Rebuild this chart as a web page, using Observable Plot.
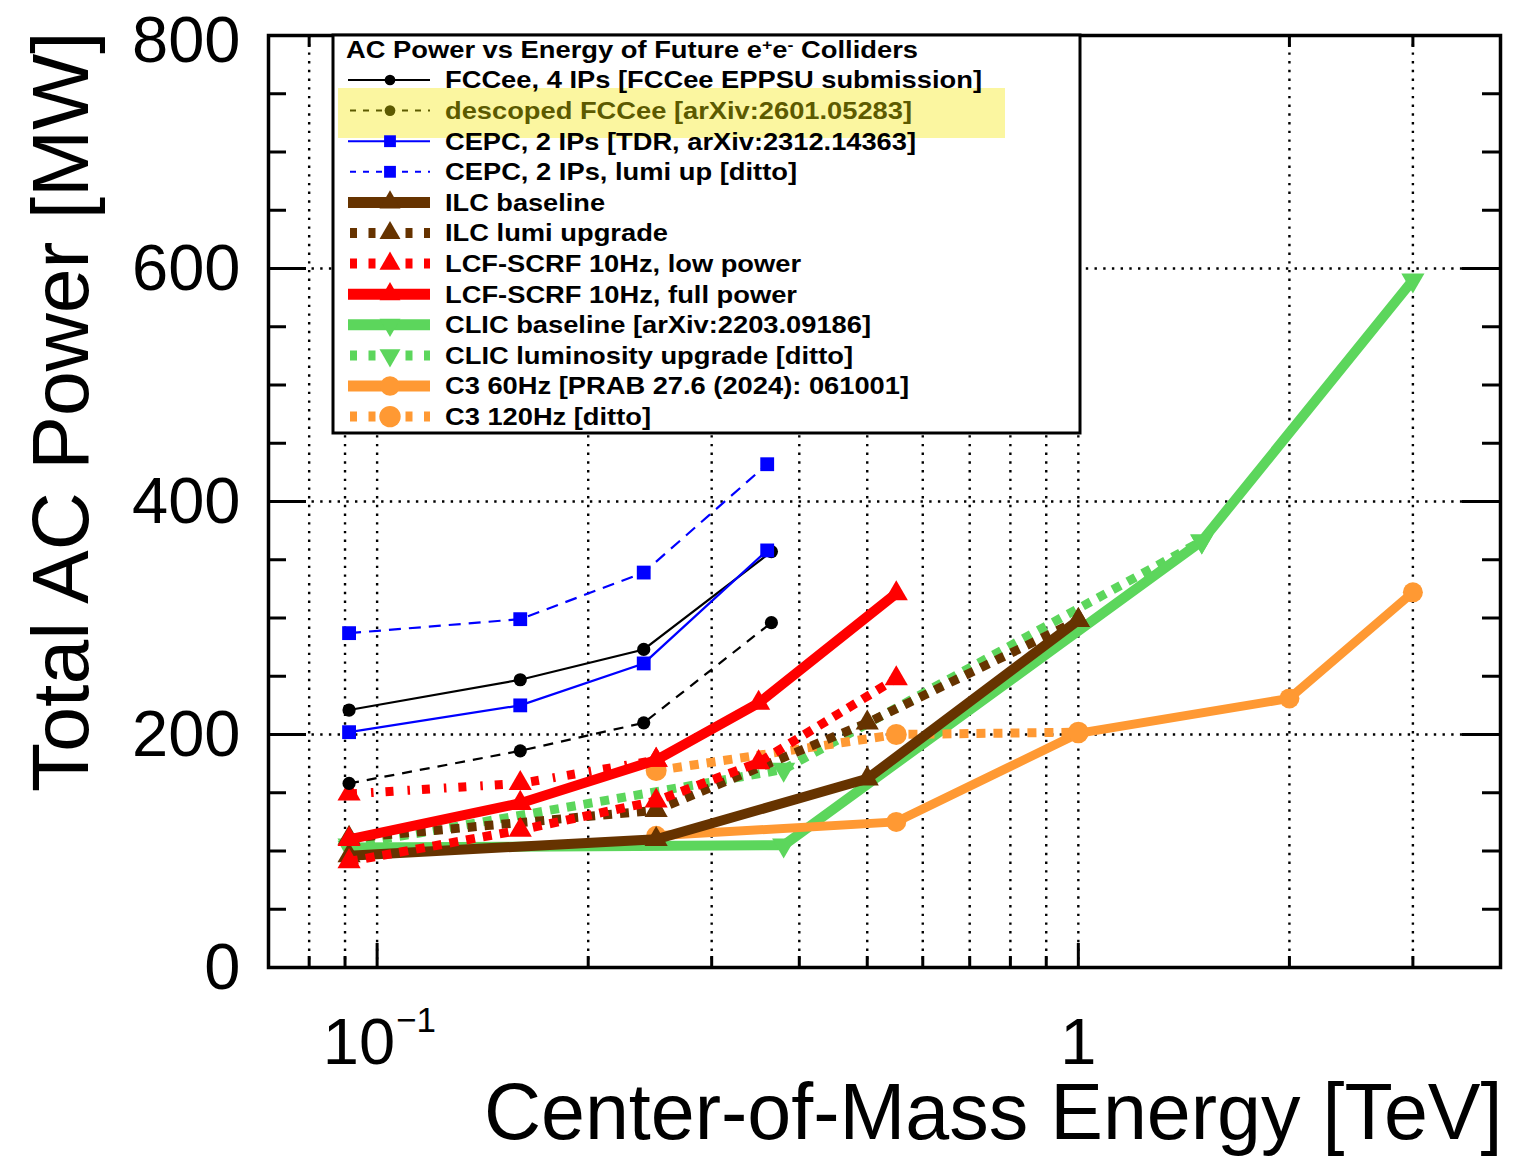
<!DOCTYPE html>
<html>
<head>
<meta charset="utf-8">
<script src="https://cdn.jsdelivr.net/npm/d3@7"></script>
<script src="https://cdn.jsdelivr.net/npm/@observablehq/plot@0.6"></script>
<style>
  html, body { margin: 0; padding: 0; background: #fff; }
  svg { display: block; }
</style>
</head>
<body>
<div id="chart"></div>
<script>
// ---------------- data ----------------
const fccEnergy        = [0.0912, 0.16, 0.24, 0.365];
const fccPower         = [221, 247, 273, 357];
const fccDescopedPower = [158, 186, 210, 296];

const cepcEnergy    = [0.0912, 0.16, 0.24, 0.36];
const cepcPower     = [202, 225, 261, 358];
const cepcLumiPower = [287, 299, 339, 432];

const ilcEnergy     = [0.0912, 0.25, 0.5, 1.0];
const ilcPower      = [96, 110, 162, 298];
const ilcLumiPower  = [111, 135, 210, 298];

const lcfEnergy     = [0.0912, 0.16, 0.25, 0.35, 0.55];
const lcfLowPower   = [91, 118, 143, 176, 248];
const lcfFullPower  = [110, 141, 178, 227, 321];
const lcfZWEnergy   = [0.0912, 0.16, 0.25];
const lcfZWPower    = [149, 158, 178];

const clicEnergy     = [0.0912, 0.38, 1.5, 3.0];
const clicPower      = [103, 105, 366, 590];
const clicLumiEnergy = [0.0912, 0.38, 1.5];
const clicLumiPower  = [105, 170, 366];

const c3Energy     = [0.25, 0.55, 1.0, 2.0, 3.0];
const c3Power60    = [113, 125, 201, 231, 322];
const c3Energy120  = [0.25, 0.55, 1.0];
const c3Power120   = [169, 200, 202];

const yMajorTicks = [0, 200, 400, 600, 800];
const yMinorTicks = [50, 100, 150, 250, 300, 350, 450, 500, 550, 650, 700, 750];
const yGridTicks  = [200, 400, 600];
const xMajorTicks = [0.1, 1];
const xMinorTicks = [0.08, 0.09, 0.2, 0.3, 0.4, 0.5, 0.6, 0.7, 0.8, 0.9, 2, 3];
const xGridTicks  = [0.08, 0.09, 0.1, 0.2, 0.3, 0.4, 0.5, 0.6, 0.7, 0.8, 0.9, 1, 2, 3];

const legendTitle = ["AC Power vs Energy of Future e", "+", "e", "-", " Colliders"];
const legendLabels = [
  "FCCee, 4 IPs [FCCee EPPSU submission]",
  "descoped FCCee [arXiv:2601.05283]",
  "CEPC, 2 IPs [TDR, arXiv:2312.14363]",
  "CEPC, 2 IPs, lumi up [ditto]",
  "ILC baseline",
  "ILC lumi upgrade",
  "LCF-SCRF 10Hz, low power",
  "LCF-SCRF 10Hz, full power",
  "CLIC baseline [arXiv:2203.09186]",
  "CLIC luminosity upgrade [ditto]",
  "C3 60Hz [PRAB 27.6 (2024): 061001]",
  "C3 120Hz [ditto]"
];
const xTitle = "Center-of-Mass Energy [TeV]";
const yTitle = "Total AC Power [MW]";

// ---------------- styles ----------------
const FONT = "'Liberation Sans', Arial, Helvetica, sans-serif";
const GREEN = "#5cd65c", ORANGE = "#ff9933", BROWN = "#663300", RED = "#ff0000",
      BLUE = "#0000ff", BLACK = "#000000", OLIVE = "#5c5a00";
const triDown = {
  draw(ctx, size) {
    const y = Math.sqrt(size / (3 * Math.sqrt(3)));
    ctx.moveTo(0, 2 * y);
    ctx.lineTo(-Math.sqrt(3) * y, -y);
    ctx.lineTo(Math.sqrt(3) * y, -y);
    ctx.closePath();
  }
};
const DOT = "9,8";
const TRI_R = 8.6;

// series in drawing order
const series = [
  {key: "clicLumi", x: clicLumiEnergy, y: clicLumiPower, color: GREEN, width: 9, dash: DOT, symbol: triDown, r: TRI_R},
  {key: "clic", x: clicEnergy, y: clicPower, color: GREEN, width: 10, dash: null, symbol: triDown, r: TRI_R},
  {key: "c3_120", x: c3Energy120, y: c3Power120, color: ORANGE, width: 9, dash: DOT, symbol: "circle", r: 10.5},
  {key: "c3_60", x: c3Energy, y: c3Power60, color: ORANGE, width: 9, dash: null, symbol: "circle", r: 10},
  {key: "ilcLumi", x: ilcEnergy, y: ilcLumiPower, color: BROWN, width: 9, dash: DOT, symbol: "triangle", r: TRI_R},
  {key: "ilc", x: ilcEnergy, y: ilcPower, color: BROWN, width: 10, dash: null, symbol: "triangle", r: TRI_R},
  {key: "lcfLow", x: lcfEnergy, y: lcfLowPower, color: RED, width: 9, dash: DOT, symbol: "triangle", r: TRI_R},
  {key: "lcfZW", x: lcfZWEnergy, y: lcfZWPower, color: RED, width: 9, dash: "8,14,2.5,12", symbol: "triangle", r: TRI_R},
  {key: "lcfFull", x: lcfEnergy, y: lcfFullPower, color: RED, width: 10, dash: null, symbol: "triangle", r: TRI_R},
  {key: "fccDesc", x: fccEnergy, y: fccDescopedPower, color: BLACK, width: 2.2, dash: "10,8", symbol: "circle", r: 6.6},
  {key: "fcc", x: fccEnergy, y: fccPower, color: BLACK, width: 2.2, dash: null, symbol: "circle", r: 6.6},
  {key: "cepcLumi", x: cepcEnergy, y: cepcLumiPower, color: BLUE, width: 2.2, dash: "12,8", symbol: "square", r: 7.8},
  {key: "cepc", x: cepcEnergy, y: cepcPower, color: BLUE, width: 2.2, dash: null, symbol: "square", r: 7.8}
];
const rows = series.flatMap(s => s.x.map((e, i) => ({key: s.key, energy: e, power: s.y[i]})));

// ---------------- layout ----------------
const W = 1533, H = 1161;
const M = {top: 35, right: 33, bottom: 194, left: 268};
const PW = W - M.left - M.right, PH = H - M.top - M.bottom;

const grid = {stroke: "black", strokeWidth: 2.4, strokeDasharray: "2.4,6.3"};
const tickStyle = {stroke: "black", strokeWidth: 3};
const yLabelStyle = {y: d => d, text: d => String(d), frameAnchor: "left", dx: -28,
  textAnchor: "end", lineAnchor: "middle", fontSize: 65, fill: "black"};

const marks = [
  Plot.ruleX(xGridTicks, {x: d => d, ...grid}),
  Plot.ruleY(yGridTicks, {y: d => d, ...grid})
];
for (const s of series) {
  const d = rows.filter(r => r.key === s.key);
  marks.push(Plot.line(d, {
    x: "energy", y: "power", stroke: s.color, strokeWidth: s.width,
    strokeDasharray: s.dash || undefined, strokeLinecap: "butt", strokeLinejoin: "miter", strokeMiterlimit: 3
  }));
  marks.push(Plot.dot(d, {x: "energy", y: "power", symbol: s.symbol, r: s.r, fill: s.color, stroke: "none"}));
}
marks.push(
  Plot.frame({stroke: "black", strokeWidth: 3.5}),
  // left / right y ticks (inside)
  Plot.ruleY(yMajorTicks, {y: d => d, insetRight: PW - 38, ...tickStyle}),
  Plot.ruleY(yMinorTicks, {y: d => d, insetRight: PW - 18, ...tickStyle}),
  Plot.ruleY(yMajorTicks, {y: d => d, insetLeft: PW - 38, ...tickStyle}),
  Plot.ruleY(yMinorTicks, {y: d => d, insetLeft: PW - 18, ...tickStyle}),
  // bottom / top x ticks (inside)
  Plot.ruleX(xMajorTicks, {x: d => d, insetTop: PH - 24, ...tickStyle}),
  Plot.ruleX(xMinorTicks, {x: d => d, insetTop: PH - 11, ...tickStyle}),
  Plot.ruleX(xMajorTicks, {x: d => d, insetBottom: PH - 24, ...tickStyle}),
  Plot.ruleX(xMinorTicks, {x: d => d, insetBottom: PH - 12, ...tickStyle}),
  // tick labels
  Plot.text(yMajorTicks.filter(v => v !== 800), {...yLabelStyle, dy: 1}),
  Plot.text(yMajorTicks.filter(v => v === 800), {...yLabelStyle, dy: 6}),
  Plot.text([1], {x: d => d, text: d => String(d), frameAnchor: "bottom", dy: 76,
    textAnchor: "middle", lineAnchor: "middle", fontSize: 65, fill: "black"}),
  Plot.text([0.1], {x: d => d, text: () => "10", frameAnchor: "bottom", dy: 76, dx: 18,
    textAnchor: "end", lineAnchor: "middle", fontSize: 65, fill: "black"}),
  Plot.text([0.1], {x: d => d, text: () => "\u22121", frameAnchor: "bottom", dy: 53, dx: 19,
    textAnchor: "start", lineAnchor: "middle", fontSize: 35, fill: "black"}),
  // axis titles
  Plot.text([xTitle], {text: d => d, frameAnchor: "bottom-right", dy: 146, dx: 2,
    textAnchor: "end", lineAnchor: "middle", fontSize: 79, fill: "black"}),
  Plot.text([yTitle], {text: d => d, frameAnchor: "top-left", dx: -206, dy: -4, rotate: -90,
    textAnchor: "end", lineAnchor: "middle", fontSize: 80.5, fill: "black"})
);

const plot = Plot.plot({
  width: W, height: H,
  marginTop: M.top, marginRight: M.right, marginBottom: M.bottom, marginLeft: M.left,
  style: {fontFamily: FONT, background: "white", overflow: "visible"},
  x: {type: "log", domain: [0.07, 4], axis: null},
  y: {domain: [0, 800], axis: null},
  marks
});
document.getElementById("chart").appendChild(plot);

// ---------------- legend (layout drawn on top of the plot) ----------------
const legendStyles = [
  {color: BLACK, width: 2, dash: null, sym: d3.symbolCircle, size: 90},
  {color: OLIVE, width: 2, dash: "6,7", sym: d3.symbolCircle, size: 90, text: OLIVE},
  {color: BLUE, width: 2, dash: null, sym: d3.symbolSquare, size: 140},
  {color: BLUE, width: 2, dash: "6,7", sym: d3.symbolSquare, size: 140},
  {color: BROWN, width: 11, dash: null, sym: d3.symbolTriangle, size: 190},
  {color: BROWN, width: 10, dash: "7,11.5", sym: d3.symbolTriangle, size: 190},
  {color: RED, width: 10, dash: "7,11.5", sym: d3.symbolTriangle, size: 190},
  {color: RED, width: 11, dash: null, sym: d3.symbolTriangle, size: 190},
  {color: GREEN, width: 11, dash: null, sym: triDown, size: 190},
  {color: GREEN, width: 10, dash: "7,11.5", sym: triDown, size: 190},
  {color: ORANGE, width: 11, dash: null, sym: d3.symbolCircle, size: 300},
  {color: ORANGE, width: 10, dash: "7,11.5", sym: d3.symbolCircle, size: 360}
];
const labelWidths = [537, 467, 471, 352, 160, 223, 356, 352, 426, 408, 464, 206];

const svg = d3.select(plot);
const lg = svg.append("g").attr("font-family", FONT).attr("text-anchor", "start");
lg.append("rect").attr("x", 333).attr("y", 35).attr("width", 747).attr("height", 398)
  .attr("fill", "white").attr("stroke", "black").attr("stroke-width", 3);
lg.append("rect").attr("x", 338).attr("y", 88).attr("width", 667).attr("height", 50)
  .attr("fill", "#fbf6a0");

const t = lg.append("text").attr("x", 346).attr("y", 50).attr("dy", "0.35em")
  .attr("text-anchor", "start")
  .attr("font-size", 23).attr("font-weight", "bold").attr("fill", "black")
  .attr("textLength", 572).attr("lengthAdjust", "spacingAndGlyphs");
t.append("tspan").text(legendTitle[0]);
t.append("tspan").attr("dy", -8).attr("font-size", 15).text(legendTitle[1]);
t.append("tspan").attr("dy", 8).text(legendTitle[2]);
t.append("tspan").attr("dy", -8).attr("font-size", 15).text(legendTitle[3]);
t.append("tspan").attr("dy", 8).text(legendTitle[4]);

legendLabels.forEach((label, i) => {
  const st = legendStyles[i];
  const y = 80 + i * 30.6;
  lg.append("line").attr("x1", st.dash ? 350 : 348).attr("x2", 430).attr("y1", y).attr("y2", y)
    .attr("stroke", st.color).attr("stroke-width", st.width)
    .attr("stroke-dasharray", st.dash);
  lg.append("path").attr("d", d3.symbol().type(st.sym).size(st.size)())
    .attr("transform", `translate(390,${y})`).attr("fill", st.color);
  lg.append("text").attr("x", 445).attr("y", y).attr("dy", "0.35em")
    .attr("text-anchor", "start")
    .attr("font-size", 24).attr("font-weight", "bold").attr("fill", st.text || "black")
    .attr("textLength", labelWidths[i]).attr("lengthAdjust", "spacingAndGlyphs")
    .text(label);
});
</script>
</body>
</html>
